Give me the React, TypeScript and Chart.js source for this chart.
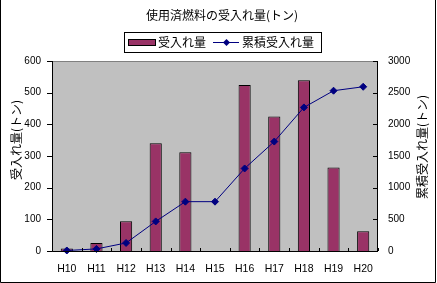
import React, { useEffect, useRef } from 'react';
import { Chart, registerables } from 'chart.js';

Chart.register(...registerables);

const categories = ['H10', 'H11', 'H12', 'H13', 'H14', 'H15', 'H16', 'H17', 'H18', 'H19', 'H20'];
const annualValues = [8, 25, 94, 340, 312, 0, 524, 425, 539, 264, 62];
const cumulativeValues = [8, 33, 127, 467, 779, 779, 1303, 1728, 2267, 2531, 2593];
const leftAxisMax = 600;
const leftAxisStep = 100;
const rightAxisMax = 3000;
const rightAxisStep = 500;

const chartTitle = '使用済燃料の受入れ量(トン)';
const annualLabel = '受入れ量';
const cumulativeLabel = '累積受入れ量';
const leftAxisTitle = '受入れ量(トン)';
const rightAxisTitle = '累積受入れ量(トン)';

const BAR_COLOR = '#993366';
const LINE_COLOR = '#000080';
const JP_FONT = '"Noto Sans CJK JP", sans-serif';
const NUM_FONT = '"Liberation Sans", Arial, sans-serif';

const decorPlugin = {
  id: 'decor',
  beforeDraw(chart: any) {
    const { ctx, chartArea: a, width, height } = chart;
    ctx.save();
    ctx.fillStyle = '#ffffff';
    ctx.fillRect(0, 0, width, height);
    ctx.fillStyle = '#C0C0C0';
    ctx.fillRect(a.left, a.top, a.right - a.left, a.bottom - a.top);
    ctx.strokeStyle = '#808080';
    ctx.lineWidth = 1;
    ctx.strokeRect(a.left + 0.5, a.top + 0.5, a.right - a.left - 1, a.bottom - a.top);
    ctx.restore();
  },
  afterDraw(chart: any) {
    const { ctx, chartArea: a, width, height } = chart;
    const y = chart.scales.y;
    const y1 = chart.scales.y1;
    ctx.save();
    ctx.strokeStyle = '#000000';
    ctx.lineWidth = 1;
    ctx.beginPath();
    ctx.moveTo(a.left + 0.5, a.top);
    ctx.lineTo(a.left + 0.5, a.bottom + 0.5);
    ctx.lineTo(a.right - 0.5, a.bottom + 0.5);
    ctx.moveTo(a.right - 0.5, a.top);
    ctx.lineTo(a.right - 0.5, a.bottom + 0.5);
    y.ticks.forEach((t: any) => {
      const py = Math.round(y.getPixelForValue(t.value)) + 0.5;
      ctx.moveTo(a.left - 5, py);
      ctx.lineTo(a.left + 0.5, py);
    });
    y1.ticks.forEach((t: any) => {
      const py = Math.round(y1.getPixelForValue(t.value)) + 0.5;
      ctx.moveTo(a.right - 5, py);
      ctx.lineTo(a.right, py);
    });
    const n = categories.length;
    for (let i = 0; i <= n; i++) {
      const px = Math.round(a.left + ((a.right - a.left) * i) / n) + 0.5;
      ctx.moveTo(px, a.bottom);
      ctx.lineTo(px, a.bottom - 3);
    }
    ctx.stroke();

    ctx.beginPath();
    ctx.moveTo(0.5, 0);
    ctx.lineTo(0.5, height - 0.5);
    ctx.lineTo(width - 1.5, height - 0.5);
    ctx.lineTo(width - 1.5, 0);
    ctx.stroke();

    ctx.fillStyle = '#000000';
    ctx.font = `12px ${JP_FONT}`;
    ctx.textAlign = 'center';
    ctx.textBaseline = 'middle';
    ctx.fillText(chartTitle, 222, 15);

    ctx.strokeRect(124.5, 32.5, 197, 20);
    ctx.fillStyle = BAR_COLOR;
    ctx.fillRect(128, 39, 28, 7);
    ctx.strokeRect(128.5, 39.5, 27, 6);
    ctx.fillStyle = '#000000';
    ctx.textAlign = 'left';
    ctx.fillText(annualLabel, 158, 42.5);
    ctx.strokeStyle = LINE_COLOR;
    ctx.beginPath();
    ctx.moveTo(213, 42.5);
    ctx.lineTo(239, 42.5);
    ctx.stroke();
    ctx.fillStyle = LINE_COLOR;
    ctx.beginPath();
    ctx.moveTo(226.5, 39);
    ctx.lineTo(230, 42.5);
    ctx.lineTo(226.5, 46);
    ctx.lineTo(223, 42.5);
    ctx.closePath();
    ctx.fill();
    ctx.fillStyle = '#000000';
    ctx.fillText(cumulativeLabel, 242, 42.5);

    ctx.textAlign = 'center';
    ctx.save();
    ctx.translate(16, 140);
    ctx.rotate(-Math.PI / 2);
    ctx.fillText(leftAxisTitle, 0, 0);
    ctx.restore();
    ctx.save();
    ctx.translate(422, 147);
    ctx.rotate(-Math.PI / 2);
    ctx.fillText(rightAxisTitle, 0, 0);
    ctx.restore();
    ctx.restore();
  },
};

export default function App() {
  const ref = useRef<HTMLCanvasElement | null>(null);
  useEffect(() => {
    if (!ref.current) return;
    const tickFont = { family: NUM_FONT, size: 10 };
    const plain = (v: any) => String(v);
    const chart = new Chart(ref.current, {
      type: 'bar',
      data: {
        labels: categories,
        datasets: [
          {
            type: 'line',
            label: cumulativeLabel,
            data: cumulativeValues,
            yAxisID: 'y1',
            borderColor: LINE_COLOR,
            backgroundColor: LINE_COLOR,
            borderWidth: 1,
            pointStyle: 'rectRot',
            pointRadius: 3.5,
            pointBackgroundColor: LINE_COLOR,
            pointBorderColor: LINE_COLOR,
            pointBorderWidth: 1,
            tension: 0,
            clip: false,
            order: 1,
          } as any,
          {
            type: 'bar',
            label: annualLabel,
            data: annualValues,
            yAxisID: 'y',
            backgroundColor: BAR_COLOR,
            borderColor: '#000000',
            borderWidth: 1,
            categoryPercentage: 0.41,
            barPercentage: 1,
            order: 2,
          } as any,
        ],
      },
      options: {
        animation: false,
        responsive: false,
        devicePixelRatio: 1,
        layout: { padding: { top: 61, left: 0, right: 0, bottom: 0 } },
        plugins: {
          legend: { display: false },
          title: { display: false },
          tooltip: { enabled: false },
        },
        scales: {
          x: {
            grid: { display: false, drawTicks: false },
            border: { display: false },
            ticks: { font: { family: NUM_FONT, size: 10.5 }, color: '#000000', padding: 12, maxRotation: 0, autoSkip: false },
            afterFit: (s: any) => { s.height = 32; },
          },
          y: {
            position: 'left',
            min: 0,
            max: leftAxisMax,
            grid: { display: false, drawTicks: false },
            border: { display: false },
            ticks: { stepSize: leftAxisStep, font: tickFont, color: '#000000', padding: 11, callback: plain },
            afterFit: (s: any) => { s.width = 52; },
          },
          y1: {
            position: 'right',
            min: 0,
            max: rightAxisMax,
            grid: { display: false, drawTicks: false },
            border: { display: false },
            ticks: { stepSize: rightAxisStep, font: tickFont, color: '#000000', padding: 10, callback: plain },
            afterFit: (s: any) => { s.width = 59; },
          },
        },
      } as any,
      plugins: [decorPlugin],
    });
    return () => chart.destroy();
  }, []);
  return (
    <div style={{ position: 'fixed', left: 0, top: 0, width: 437, height: 283 }}>
      <canvas ref={ref} width={437} height={283} style={{ width: 437, height: 283, display: 'block' }} />
    </div>
  );
}
